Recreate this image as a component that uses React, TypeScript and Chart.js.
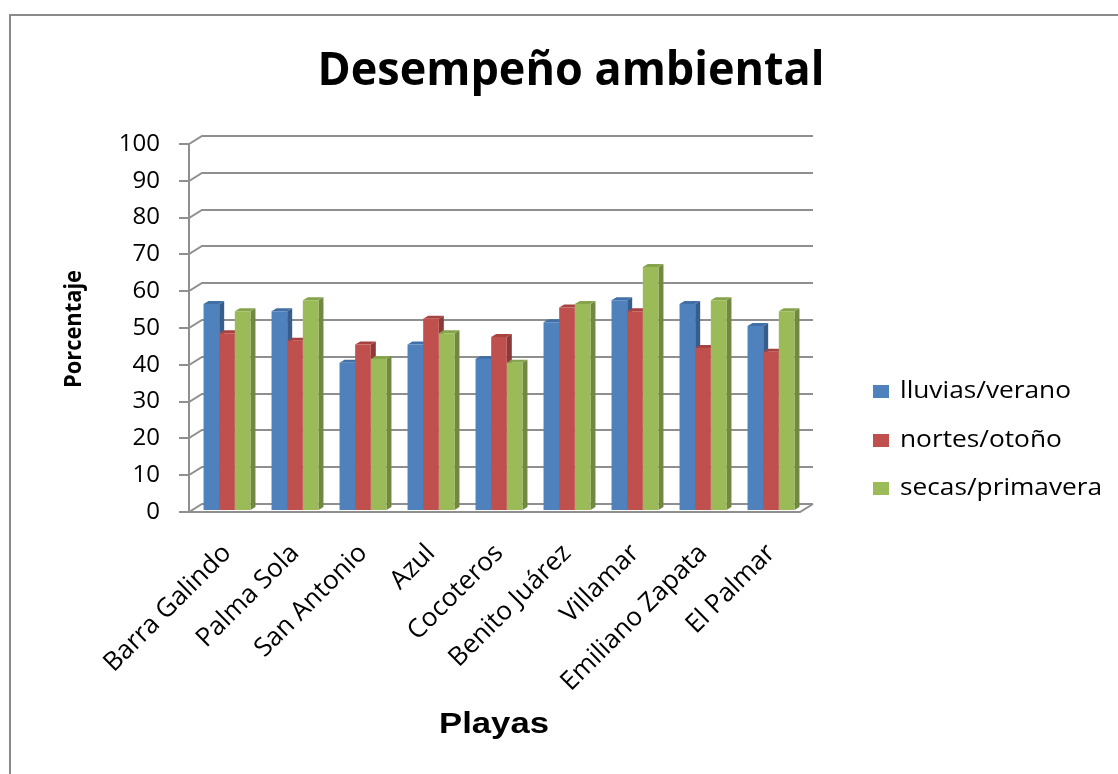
import { useEffect, useRef } from "react";
import { Chart, registerables } from "chart.js";

Chart.register(...registerables);

const categories = [
  "Barra Galindo",
  "Palma Sola",
  "San Antonio",
  "Azul",
  "Cocoteros",
  "Benito Juárez",
  "Villamar",
  "Emiliano Zapata",
  "El Palmar",
];
const lluviasVerano = [56, 54, 40, 45, 41, 51, 57, 56, 50];
const nortesOtono = [48, 46, 45, 52, 47, 55, 54, 44, 43];
const secasPrimavera = [54, 57, 41, 48, 40, 56, 66, 57, 54];
const seriesNames = ["lluvias/verano", "nortes/otoño", "secas/primavera"];
const yTickValues = [0, 10, 20, 30, 40, 50, 60, 70, 80, 90, 100];

const chartTitle = "Desempeño ambiental";
const yTitle = "Porcentaje";
const xTitle = "Playas";

const W = 1118;
const H = 774;
const frontColors = ["#4F81BD", "#C0504D", "#9BBB59"];
const sideColors = ["#385D8A", "#8C3A38", "#71893F"];
const topColors = ["#416FA6", "#A6423F", "#86A44B"];
const GRID = "#8f8f8f";
const DX = 13;
const DY = 8;
const BDX = 5;
const BDY = 3;
const BAR_LIFT = 2;

function fitText(
  ctx: CanvasRenderingContext2D,
  text: string,
  font: string,
  x: number,
  y: number,
  width: number,
  align: CanvasTextAlign,
  rotate = 0
) {
  ctx.save();
  ctx.font = font;
  const m = ctx.measureText(text).width;
  const s = width / m;
  ctx.translate(x, y);
  if (rotate) ctx.rotate(rotate);
  ctx.scale(s, 1);
  ctx.textAlign = align;
  ctx.fillStyle = "#000";
  ctx.fillText(text, 0, 0);
  ctx.restore();
}

const decorPlugin = {
  id: "decor",
  beforeDraw(chart: any) {
    const ctx: CanvasRenderingContext2D = chart.ctx;
    ctx.save();
    ctx.fillStyle = "#fff";
    ctx.fillRect(0, 0, W, H);
    ctx.strokeStyle = "#8a8a8a";
    ctx.lineWidth = 2;
    ctx.strokeRect(10, 15, W + 40, H + 40);

    ctx.textBaseline = "alphabetic";
    fitText(ctx, chartTitle, "bold 46px 'Open Sans'", 571, 85, 507, "center");
    ctx.textBaseline = "middle";
    fitText(ctx, yTitle, "bold 23px 'Open Sans'", 74, 329, 118, "center", -Math.PI / 2);
    ctx.textBaseline = "alphabetic";
    fitText(ctx, xTitle, "bold 29px 'Liberation Sans'", 494, 733, 110, "center");

    // legend
    const rows = [398, 447, 495];
    ctx.font = "24px 'Open Sans'";
    const sc = 171 / ctx.measureText(seriesNames[0]).width;
    seriesNames.forEach((name, i) => {
      ctx.fillStyle = frontColors[i];
      ctx.fillRect(873, rows[i] - 13, 16, 13);
      ctx.save();
      ctx.translate(900, rows[i]);
      ctx.scale(sc, 1);
      ctx.fillStyle = "#000";
      ctx.textAlign = "left";
      ctx.font = "24px 'Open Sans'";
      ctx.fillText(name, 0, 0);
      ctx.restore();
    });
    ctx.restore();
  },
  beforeDatasetsDraw(chart: any) {
    const ctx: CanvasRenderingContext2D = chart.ctx;
    const ys = chart.scales.y;
    const area = chart.chartArea;
    const AX = area.left - 4;
    const FX = area.right - 5;
    ctx.save();
    ctx.strokeStyle = GRID;
    ctx.lineWidth = 2;
    ctx.lineCap = "butt";
    yTickValues.forEach((v) => {
      const y = Math.round(ys.getPixelForValue(v));
      ctx.beginPath();
      ctx.moveTo(AX - 10, y);
      ctx.lineTo(AX, y);
      ctx.lineTo(AX + DX, y - DY);
      ctx.lineTo(FX + DX, y - DY);
      ctx.stroke();
      if (v === 0) {
        ctx.beginPath();
        ctx.moveTo(AX, y);
        ctx.lineTo(FX, y);
        ctx.lineTo(FX + DX, y - DY);
        ctx.stroke();
      }
    });
    ctx.beginPath();
    ctx.moveTo(AX, ys.getPixelForValue(100));
    ctx.lineTo(AX, ys.getPixelForValue(0));
    ctx.stroke();
    ctx.restore();

    // bars sit half-way into the depth: lift them a little
    ctx.save();
    ctx.translate(0, -BAR_LIFT);
    // 3D faces of bars (sides and tops); fronts are drawn by Chart.js afterwards
    chart.data.datasets.forEach((_: any, di: number) => {
      const meta = chart.getDatasetMeta(di);
      meta.data.forEach((bar: any) => {
        const { x, y, base, width } = bar.getProps(["x", "y", "base", "width"], true);
        const l = x - width / 2;
        const r = x + width / 2;
        ctx.fillStyle = sideColors[di];
        ctx.beginPath();
        ctx.moveTo(r, y);
        ctx.lineTo(r + BDX, y - BDY);
        ctx.lineTo(r + BDX, base - BDY);
        ctx.lineTo(r, base);
        ctx.closePath();
        ctx.fill();
        ctx.fillStyle = topColors[di];
        ctx.beginPath();
        ctx.moveTo(l, y);
        ctx.lineTo(l + BDX, y - BDY);
        ctx.lineTo(r + BDX, y - BDY);
        ctx.lineTo(r, y);
        ctx.closePath();
        ctx.fill();
      });
    });
  },
  afterDatasetsDraw(chart: any) {
    chart.ctx.restore();
  },
};

export default function App() {
  const ref = useRef<HTMLCanvasElement | null>(null);
  useEffect(() => {
    if (!ref.current) return;
    const series = [lluviasVerano, nortesOtono, secasPrimavera];
    const chart = new Chart(ref.current, {
      type: "bar",
      data: {
        labels: categories,
        datasets: series.map((d, i) => ({
          label: seriesNames[i],
          data: d,
          backgroundColor: frontColors[i],
          borderWidth: 0,
          categoryPercentage: 0.69,
          barPercentage: 1,
        })),
      },
      options: {
        responsive: false,
        animation: false,
        layout: { padding: { left: 0, top: 144, right: W - 805, bottom: 0 } },
        plugins: {
          legend: { display: false },
          title: { display: false },
          tooltip: { enabled: false },
        },
        scales: {
          x: {
            grid: { display: false, drawTicks: false },
            border: { display: false },
            ticks: {
              autoSkip: false,
              maxRotation: 45,
              minRotation: 45,
              padding: 26,
              color: "#000",
              font: { family: "'Open Sans'", size: 26 },
            },
            afterFit(scale: any) {
              scale.height = H - 512;
            },
          },
          y: {
            min: 0,
            max: 100,
            grid: { display: false, drawTicks: false },
            border: { display: false },
            ticks: {
              stepSize: 10,
              padding: 33,
              color: "#000",
              font: { family: "'Open Sans'", size: 24 },
            },
            afterFit(scale: any) {
              scale.width = 193;
            },
          },
        },
      },
      plugins: [decorPlugin],
    });
    return () => chart.destroy();
  }, []);
  return (
    <div style={{ position: "absolute", left: 0, top: 0, width: W, height: H }}>
      <canvas ref={ref} width={W} height={H} style={{ display: "block", width: W, height: H }} />
    </div>
  );
}
